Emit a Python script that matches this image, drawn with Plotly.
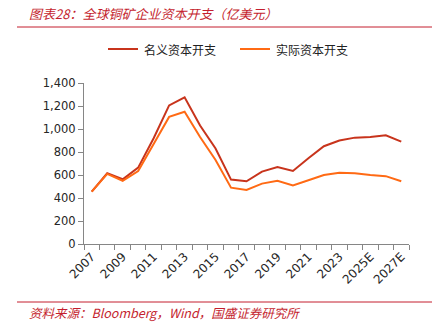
import plotly.graph_objects as go

years = ["2007", "2008", "2009", "2010", "2011", "2012", "2013", "2014", "2015", "2016",
         "2017", "2018", "2019", "2020", "2021", "2022", "2023", "2024", "2025E", "2026E", "2027E"]
nominal = [456, 615, 563, 664, 920, 1205, 1275, 1030, 830, 560,
           545, 630, 670, 635, 745, 850, 900, 925, 930, 945, 890]
real = [456, 610, 550, 635, 870, 1105, 1150, 930, 730, 490,
        470, 525, 550, 510, 555, 600, 620, 615, 600, 590, 545]
tick_text = [y if i % 2 == 0 else "" for i, y in enumerate(years)]

title_text = "图表28：全球铜矿企业资本开支（亿美元）"
source_text = "资料来源：Bloomberg，Wind，国盛证券研究所"
name_nom = "名义资本开支"
name_real = "实际资本开支"

RED = "#C41E2E"
C_NOM = "#C8341C"
C_REAL = "#FF6A14"
CJK = "Noto Sans CJK SC"

W, H = 447, 322
L, R, T, B = 84, 38, 83, 78


def px_x(p):
    return (p - L) / (W - L - R)


def px_y(p):
    return (H - B - p) / (H - T - B)


fig = go.Figure()
fig.add_trace(go.Scatter(x=years, y=nominal, mode="lines", name=name_nom,
                         line=dict(color=C_NOM, width=2)))
fig.add_trace(go.Scatter(x=years, y=real, mode="lines", name=name_real,
                         line=dict(color=C_REAL, width=2)))

fig.update_layout(
    width=W, height=H,
    margin=dict(l=L, r=R, t=T, b=B),
    paper_bgcolor="white", plot_bgcolor="white",
    font=dict(family="DejaVu Sans", size=11.5, color="#262626"),
    showlegend=False,
    xaxis=dict(type="category", range=[-0.5, len(years) - 0.5],
               tickmode="array", tickvals=years, ticktext=tick_text,
               tickangle=-45, tickson="boundaries", ticks="outside", ticklen=5,
               tickcolor="#868686", showline=True, linecolor="#868686", linewidth=1,
               showgrid=False, zeroline=False,
               tickfont=dict(family="DejaVu Sans", size=12, color="#262626")),
    yaxis=dict(range=[0, 1400], dtick=200, tickformat=",d", ticks="outside", ticklen=5,
               tickcolor="#868686", showline=True, linecolor="#868686", linewidth=1,
               showgrid=False, zeroline=False,
               tickfont=dict(family="DejaVu Sans", size=11.5, color="#262626")),
)

# title and source
fig.add_annotation(text="<i>" + title_text + "</i>", xref="paper", yref="paper",
                   x=px_x(27), xanchor="left", y=px_y(13), yanchor="middle", showarrow=False,
                   font=dict(family=CJK, size=13, color=RED))
fig.add_annotation(text="<i>" + source_text + "</i>", xref="paper", yref="paper",
                   x=px_x(27), xanchor="left", y=px_y(312), yanchor="middle", showarrow=False,
                   font=dict(family=CJK, size=12.5, color=RED))
for yy in (27, 302):
    fig.add_shape(type="line", xref="paper", yref="paper",
                  x0=px_x(17), x1=px_x(432), y0=px_y(yy), y1=px_y(yy),
                  line=dict(color=RED, width=1))

# legend (drawn manually)
for x0, col, name in ((108, C_NOM, name_nom), (240, C_REAL, name_real)):
    fig.add_shape(type="line", xref="paper", yref="paper",
                  x0=px_x(x0), x1=px_x(x0 + 30), y0=px_y(49), y1=px_y(49),
                  line=dict(color=col, width=2))
    fig.add_annotation(text=name, xref="paper", yref="paper",
                       x=px_x(x0 + 34), xanchor="left", y=px_y(49), yanchor="middle",
                       showarrow=False, font=dict(family=CJK, size=12, color="#222222"))

fig.write_html("out.html")
